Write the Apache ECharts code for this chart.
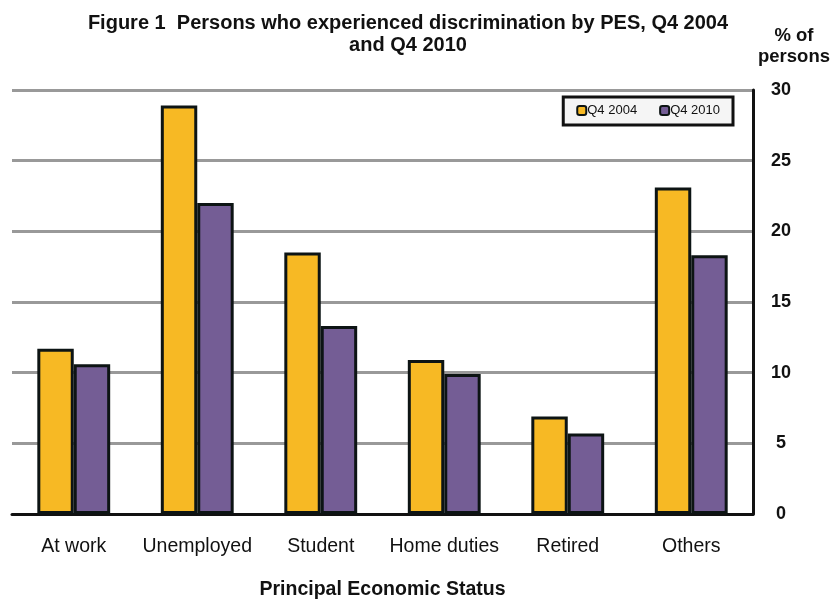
<!DOCTYPE html>
<html>
<head>
<meta charset="utf-8">
<script src="https://cdn.jsdelivr.net/npm/echarts@6/dist/echarts.min.js"></script>
<style>
  html, body { margin: 0; padding: 0; background: #fff; }
  #chart { width: 837px; height: 599px; }
</style>
</head>
<body>
<div id="chart"></div>
<script>
// Principal Economic Status categories
const categories = ['At work', 'Unemployed', 'Student', 'Home duties', 'Retired', 'Others'];
// Percentage of persons who experienced discrimination
const q4_2004 = [11.7, 28.9, 18.5, 10.9, 6.9, 23.1];
const q4_2010 = [10.6, 22.0, 13.3, 9.9, 5.7, 18.3];
const seriesNames = ['Q4 2004', 'Q4 2010'];
const yTicks = { min: 0, max: 30, interval: 5 };

const FONT = '"Liberation Sans", Arial, sans-serif';
const chart = echarts.init(document.getElementById('chart'), null, { renderer: 'canvas' });

const barStyle = (color) => ({ color: color, borderColor: '#0d1414', borderWidth: 3 });

chart.setOption({
  animation: false,
  backgroundColor: '#ffffff',
  title: [
    {
      text: 'Figure 1  Persons who experienced discrimination by PES, Q4 2004\nand Q4 2010',
      left: 403, top: 7, textAlign: 'center',
      textStyle: { fontFamily: FONT, fontSize: 20, fontWeight: 'bold', color: '#111', lineHeight: 22 }
    },
    {
      // unit caption above the right-hand value axis
      text: '% of\npersons',
      left: 789, top: 20, textAlign: 'center',
      textStyle: { fontFamily: FONT, fontSize: 18.5, fontWeight: 'bold', color: '#111', lineHeight: 21, align: 'center' }
    }
  ],
  legend: {
    data: seriesNames,
    right: 104, top: 97,
    orient: 'horizontal',
    itemWidth: 9, itemHeight: 9, itemGap: 22,
    padding: [7, 13, 8, 13],
    borderColor: '#111', borderWidth: 3, backgroundColor: '#f5f5f5',
    textStyle: { fontFamily: FONT, fontSize: 13, color: '#111', padding: [0, 0, 0, -4] }
  },
  grid: { left: 12, right: 84, top: 90, bottom: 85, containLabel: false, outerBoundsMode: 'none' },
  xAxis: {
    type: 'category',
    data: categories,
    name: 'Principal Economic Status',
    nameLocation: 'middle', nameGap: 66,
    nameTextStyle: { fontFamily: FONT, fontSize: 19.5, fontWeight: 'bold', color: '#111' },
    axisLine: { show: true, lineStyle: { color: '#111', width: 3 } },
    axisTick: { show: false },
    axisLabel: { interval: 0, fontFamily: FONT, fontSize: 19.5, color: '#111', margin: 23 }
  },
  yAxis: {
    type: 'value',
    position: 'right',
    min: yTicks.min, max: yTicks.max, interval: yTicks.interval,
    axisLine: { show: true, lineStyle: { color: '#111', width: 3 } },
    axisTick: { show: false },
    axisLabel: { fontFamily: FONT, fontSize: 18, fontWeight: 'bold', color: '#111', margin: 28, align: 'center' },
    splitLine: { show: true, lineStyle: { color: '#999', width: 3 } }
  },
  series: [
    {
      name: seriesNames[0], type: 'bar', data: q4_2004,
      barGap: '0%', barCategoryGap: '41%',
      itemStyle: barStyle('#f7b924')
    },
    {
      name: seriesNames[1], type: 'bar', data: q4_2010,
      barGap: '0%', barCategoryGap: '41%',
      itemStyle: barStyle('#745d95')
    }
  ]
});
</script>
</body>
</html>
